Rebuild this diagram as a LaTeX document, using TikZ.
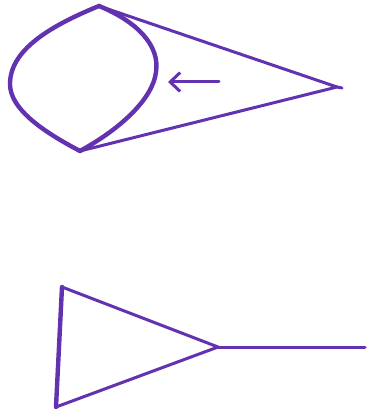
\documentclass[tikz,border=0pt]{standalone}
\usetikzlibrary{arrows.meta}
\definecolor{ink}{RGB}{98,50,176}
\tikzset{
  thinline/.style={draw=ink, line width=3pt, line cap=round, line join=round},
  thickline/.style={draw=ink, line width=4.4pt, line cap=round, line join=round},
}
\begin{document}
\begin{tikzpicture}[x=1pt,y=-1pt]
\useasboundingbox (0,0) rectangle (367,417);
% top figure
\coordinate (T) at (99,6);
\coordinate (B) at (80,151);
\coordinate (A) at (337,87);
\coordinate (Aend) at (342,88);
\draw[thickline] (T) .. controls (50,26) and (10,50) .. (10,84) .. controls (10,108) and (40,130) .. (B);
\draw[thickline] (T) .. controls (138,22) and (160,46) .. (156,72) .. controls (153,98) and (122,128) .. (B);
\draw[thinline] (T) -- (A) -- (B);
\draw[thinline] (A) -- (Aend);
\coordinate (arrtail) at (219,82);
\coordinate (arrtip) at (168,82);
\draw[thinline, -{Straight Barb[length=10pt,width=19pt,line width=3pt]}] (arrtail) -- (arrtip);
% bottom figure
\coordinate (P) at (62,287);
\coordinate (Q) at (56,407);
\coordinate (R) at (218,347);
\coordinate (S) at (365,347);
\draw[thickline] (P) -- (Q);
\draw[thinline] (P) -- (R) -- (Q);
\draw[thinline] (R) -- (S);
\end{tikzpicture}
\end{document}
